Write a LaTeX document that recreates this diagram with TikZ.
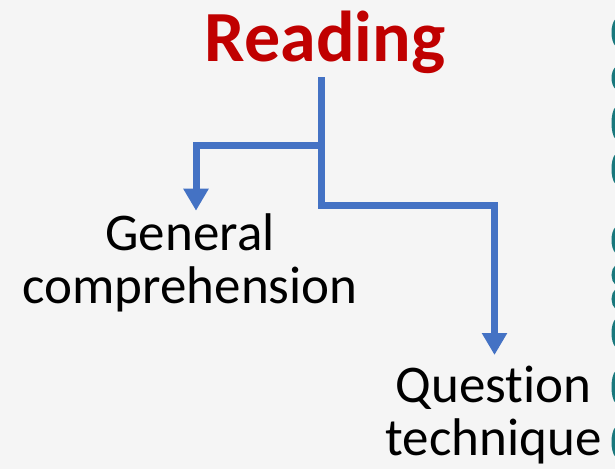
\documentclass[tikz,border=0pt]{standalone}
\usepackage{fontspec}
\setmainfont{Carlito}[Ligatures={NoCommon},RawFeature={-liga;-dlig;-clig}]
\usetikzlibrary{arrows.meta}
\definecolor{bg}{RGB}{245,245,245}
\definecolor{titlered}{RGB}{192,0,0}
\definecolor{linkblue}{RGB}{68,114,196}
\definecolor{edgeteal}{RGB}{25,120,125}
\tikzset{
  conn/.style={draw=linkblue, line width=7pt, -{Triangle[length=22pt,width=24pt]}},
  label/.style={font=\fontsize{53}{53}\selectfont, align=center, inner sep=0pt, anchor=base},
  edgemark/.style={draw=edgeteal, line width=3.5pt},
}
\begin{document}
\begin{tikzpicture}[x=1pt,y=-1pt]
  \fill[bg] (0,0) rectangle (615,469);
  \useasboundingbox (0,0) rectangle (615,469);
  % right-edge teal marks
  \begin{scope}
    \clip (0,0) rectangle (615,469);
    \foreach \a/\b in {20/45, 68/88, 108/138, 155/183, 228/252, 266/284, 290/308, 320/346, 372/402, 428/456}{
      \draw[edgemark] (617,\a) .. controls (612,\a+4) and (612,\b-4) .. (617,\b);
    }
  \end{scope}
  \node[font=\fontsize{72}{72}\selectfont\bfseries, text=titlered, inner sep=0pt, anchor=base] (R) at (325,61.7) {Reading};
  \coordinate (top) at (321,77);
  \coordinate (jl) at (321,145.5);
  \coordinate (jr) at (321,205);
  \coordinate (tipG) at (196,210.7);
  \coordinate (tipQ) at (494.5,355);
  \draw[conn] (top) -- (jr) -| (tipQ);
  \draw[conn] (jl) -| (tipG);
  \node[label] (G) at (190,303) {General\\comprehension};
  \node[label] (Q) at (493.5,455) {Question\\technique};
\end{tikzpicture}
\end{document}
